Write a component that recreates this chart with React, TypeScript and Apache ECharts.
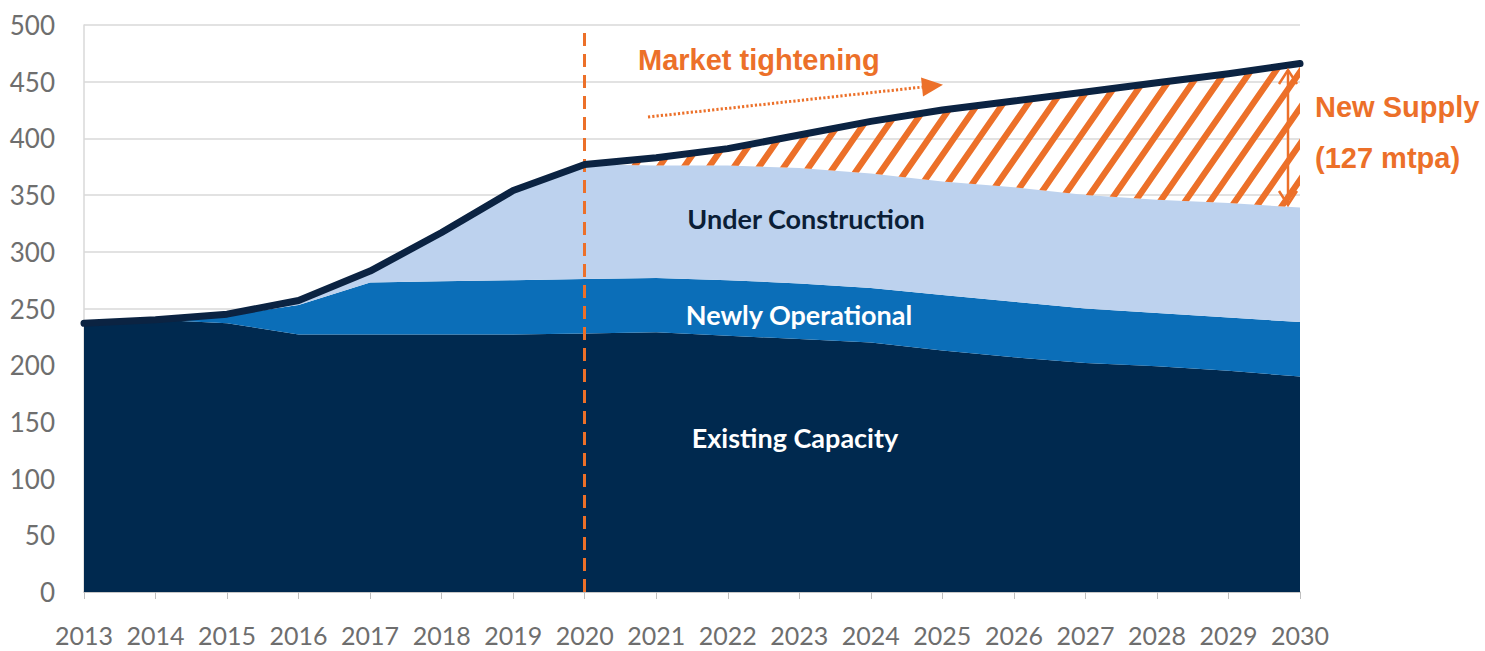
import React, { useEffect, useRef } from 'react';
import * as echarts from 'echarts';

const years = ['2013', '2014', '2015', '2016', '2017', '2018', '2019', '2020', '2021', '2022', '2023', '2024', '2025', '2026', '2027', '2028', '2029', '2030'];
const existingCapacity = [237, 240, 237, 227, 227, 227, 227, 228, 229, 226, 223, 220, 213, 207, 202, 199, 195, 190];
const newlyOperational = [0, 0, 7, 26, 46, 47, 48, 48, 48, 49, 49, 48, 49, 49, 48, 47, 47, 48];
const underConstruction = [0, 0, 1, 4, 10, 43, 79, 101, 99, 101, 102, 101, 100, 101, 100, 100, 101, 101];
const newSupply = [0, 0, 0, 0, 0, 0, 0, 0, 7, 15, 29, 46, 63, 76, 91, 103, 114, 127];
const totalCapacity = [237, 240, 245, 257, 283, 317, 354, 377, 383, 391, 403, 415, 425, 433, 441, 449, 457, 466];

const ORANGE = '#EC7029';
const NAVY = '#00294F';
const MID_BLUE = '#0B6EB8';
const LIGHT_BLUE = '#BDD2EE';
const LINE_NAVY = '#0B2342';

const hatchSvg =
  "<svg xmlns='http://www.w3.org/2000/svg' width='25' height='36'>" +
  "<path d='M-5,43.2 L30,-7.2 M-5,7.2 L5,-7.2 M20,43.2 L30,28.8' stroke='" + ORANGE + "' stroke-width='6.2' fill='none'/></svg>";
const hatchUrl = 'data:image/svg+xml;charset=utf-8,' + encodeURIComponent(hatchSvg);

export default function App() {
  const ref = useRef<HTMLDivElement>(null);
  useEffect(() => {
    document.body.style.margin = '0';
    const chart = echarts.init(ref.current!, null, { renderer: 'svg' });
    const areaBase = {
      type: 'line',
      stack: 'capacity',
      symbol: 'none',
      showSymbol: false,
      silent: true,
      lineStyle: { width: 0 },
    };
    chart.setOption({
      animation: false,
      grid: { left: 84, right: 185, top: 25, bottom: 59, containLabel: false },
      xAxis: {
        type: 'category',
        data: years,
        boundaryGap: false,
        axisLine: { show: true, lineStyle: { color: '#BFBFBF', width: 1.5 } },
        axisTick: { show: true, length: 7, alignWithLabel: true, lineStyle: { color: '#BFBFBF', width: 1 } },
        splitLine: { show: false },
        axisLabel: {
          color: '#6E6E6E',
          fontFamily: 'Lato',
          fontSize: 25,
          margin: 30,
          interval: 0,
        },
      },
      yAxis: {
        type: 'value',
        min: 0,
        max: 500,
        interval: 50,
        axisLine: { show: true, lineStyle: { color: '#D9D9D9', width: 1.5 } },
        axisTick: { show: false },
        splitLine: { show: true, lineStyle: { color: '#D9D9D9', width: 1.5 } },
        axisLabel: {
          color: '#6E6E6E',
          fontFamily: 'Lato',
          fontSize: 26,
          margin: 29,
        },
      },
      series: [
        {
          ...areaBase,
          name: 'Existing Capacity',
          data: existingCapacity,
          areaStyle: { color: NAVY, opacity: 1 },
          markLine: {
            silent: true,
            symbol: 'none',
            label: { show: false },
            lineStyle: { color: ORANGE, width: 3, type: [13, 8] },
            data: [{ xAxis: '2020' }],
          },
        },
        {
          ...areaBase,
          name: 'Newly Operational',
          data: newlyOperational,
          areaStyle: { color: MID_BLUE, opacity: 1 },
        },
        {
          ...areaBase,
          name: 'Under Construction',
          data: underConstruction,
          areaStyle: { color: LIGHT_BLUE, opacity: 1 },
        },
        {
          ...areaBase,
          name: 'New Supply',
          data: newSupply,
          areaStyle: {
            color: { image: hatchUrl, repeat: 'repeat', imageWidth: 25, imageHeight: 36 },
            opacity: 1,
          },
        },
        {
          type: 'line',
          name: 'Total',
          data: totalCapacity,
          symbol: 'none',
          showSymbol: false,
          silent: true,
          z: 6,
          lineStyle: { color: LINE_NAVY, width: 7, cap: 'round', join: 'round' },
        },
      ],
      graphic: [
        {
          type: 'line',
          z: 100,
          shape: { x1: 648, y1: 117, x2: 923, y2: 87 },
          style: { stroke: ORANGE, lineWidth: 3, lineDash: [2.2, 2.1] },
          silent: true,
        },
        {
          type: 'polygon',
          z: 100,
          shape: { points: [[943, 84.7], [923, 96.4], [921, 77.6]] },
          style: { fill: ORANGE },
          silent: true,
        },
        {
          type: 'text',
          z: 100,
          x: 638, y: 60,
          style: {
            text: 'Market tightening',
            fill: ORANGE,
            font: 'bold 29px "Liberation Sans", Arial, sans-serif',
            verticalAlign: 'middle',
          },
        },
        {
          type: 'text',
          z: 100,
          x: 1315, y: 107,
          style: {
            text: 'New Supply',
            fill: ORANGE,
            font: 'bold 29px "Liberation Sans", Arial, sans-serif',
            verticalAlign: 'middle',
          },
        },
        {
          type: 'text',
          z: 100,
          x: 1315, y: 158,
          style: {
            text: '(127 mtpa)',
            fill: ORANGE,
            font: 'bold 29px "Liberation Sans", Arial, sans-serif',
            verticalAlign: 'middle',
          },
        },
        {
          type: 'text',
          x: 806, y: 218,
          z: 100,
          style: {
            text: 'Under Construction',
            fill: '#0B1E36',
            font: 'bold 27px Lato, sans-serif',
            align: 'center',
            verticalAlign: 'middle',
          },
        },
        {
          type: 'text',
          x: 799, y: 314,
          z: 100,
          style: {
            text: 'Newly Operational',
            fill: '#FFFFFF',
            font: 'bold 27px Lato, sans-serif',
            align: 'center',
            verticalAlign: 'middle',
          },
        },
        {
          type: 'text',
          x: 795, y: 437,
          z: 100,
          style: {
            text: 'Existing Capacity',
            fill: '#FFFFFF',
            font: 'bold 27px Lato, sans-serif',
            align: 'center',
            verticalAlign: 'middle',
          },
        },
        {
          type: 'line',
          z: 100,
          shape: { x1: 1288, y1: 70, x2: 1288, y2: 205 },
          style: { stroke: ORANGE, lineWidth: 2.5 },
          silent: true,
        },
        {
          type: 'polyline',
          z: 100,
          shape: { points: [[1279, 84], [1288, 70], [1297, 84]] },
          style: { stroke: ORANGE, lineWidth: 2.5, fill: null },
          silent: true,
        },
        {
          type: 'polyline',
          z: 100,
          shape: { points: [[1279, 191], [1288, 205], [1297, 191]] },
          style: { stroke: ORANGE, lineWidth: 2.5, fill: null },
          silent: true,
        },
      ],
    });
    return () => chart.dispose();
  }, []);
  return <div ref={ref} style={{ width: 1485, height: 651 }} />;
}
